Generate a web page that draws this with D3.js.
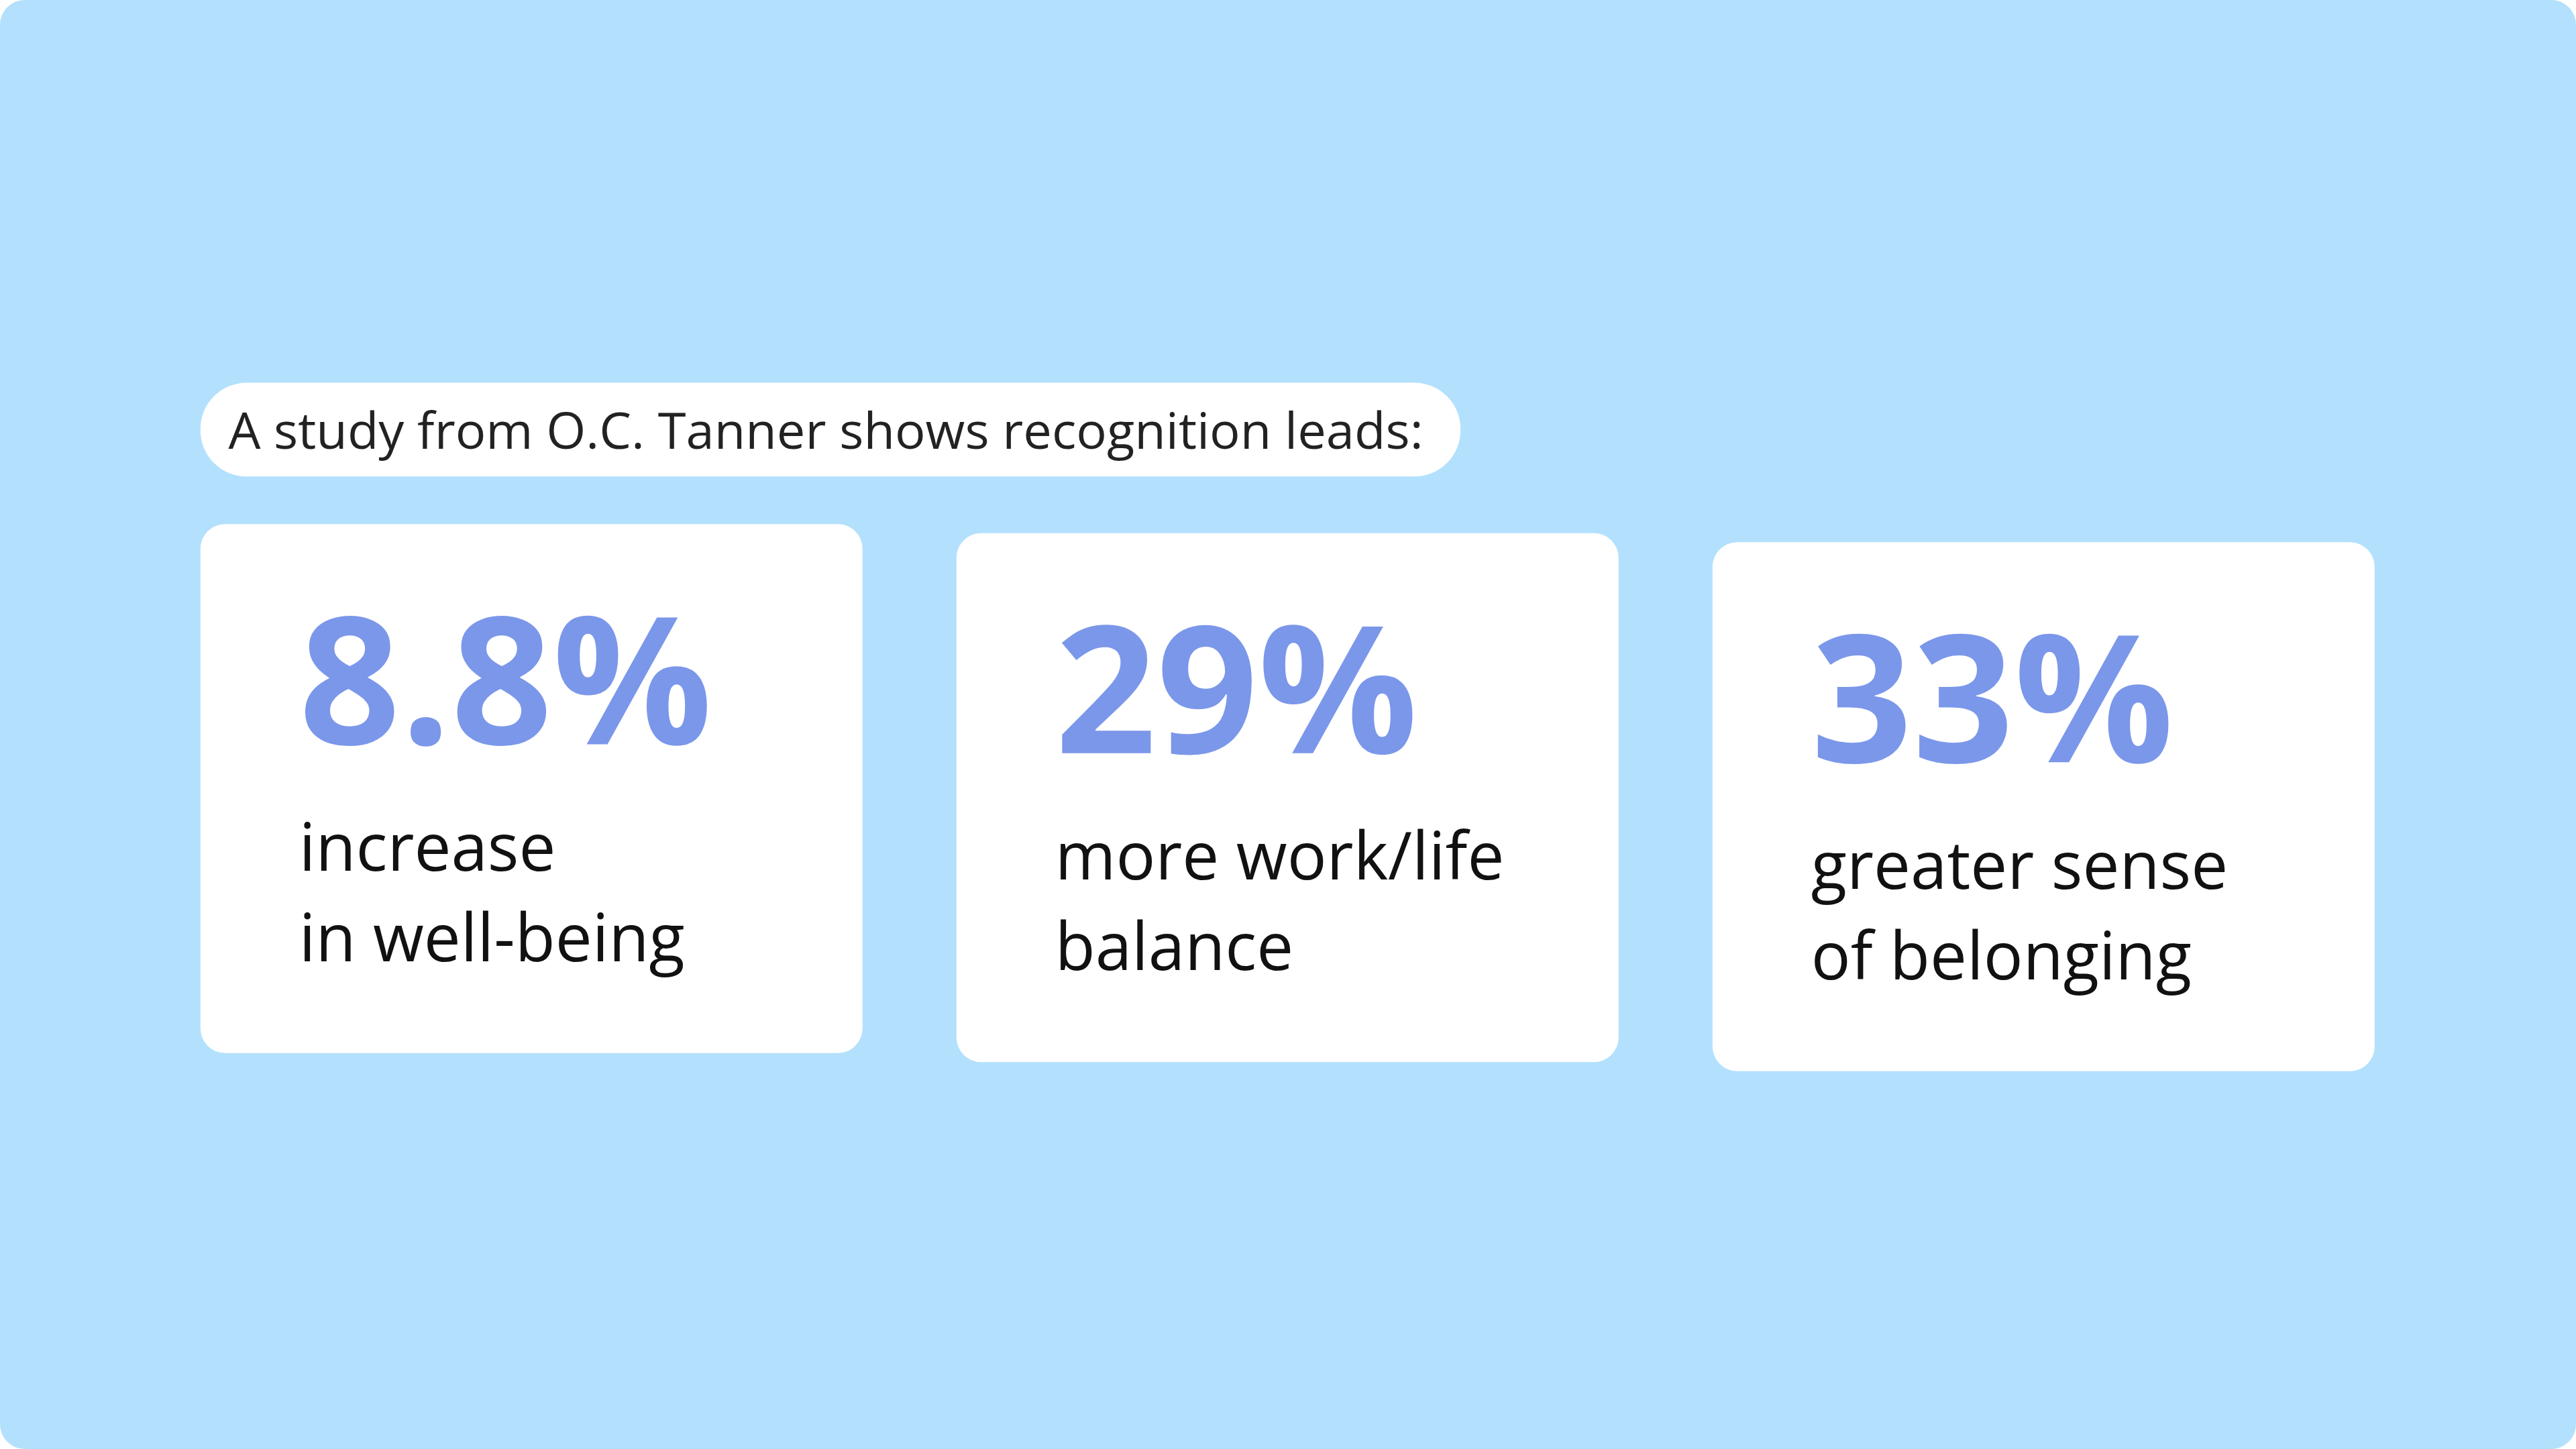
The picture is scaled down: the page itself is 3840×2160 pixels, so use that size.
<!DOCTYPE html>
<html><head><meta charset="utf-8">
<script src="https://cdn.jsdelivr.net/npm/d3@7"></script>
<style>html,body{margin:0;padding:0;background:#fff}svg{display:block}</style>
</head><body>
<script>
const title = "A study from O.C. Tanner shows recognition leads:";
const categories = ["well-being", "work/life balance", "belonging"];
const values = ["8.8%", "29%", "33%"];
const labelLine1 = ["increase", "more work/life", "greater sense"];
const labelLine2 = ["in well-being", "balance", "of belonging"];

const W = 3840, H = 2160, s = W / 1568;
const svg = d3.select("body").append("svg").attr("width", W).attr("height", H);
svg.append("rect").attr("width", W).attr("height", H).attr("rx", 15*s).attr("fill", "#b3e1fd");

// title pill
svg.append("rect").attr("x", 122*s).attr("y", 233*s).attr("width", 767*s).attr("height", 57*s)
  .attr("rx", 28*s).attr("fill", "#fff");
svg.append("text").attr("x", 139*s).attr("y", 273*s).attr("font-family", "Open Sans")
  .attr("font-size", 31*s).attr("fill", "#222").text(title);

const x = d3.scaleBand().domain(categories).range([122*s, 1446*s]).paddingInner(57/403*0.87);
const yOff = d3.scaleLinear().domain([0, 2]).range([319*s, 330*s]);
const cardW = 403*s, cardH = 322*s;

const g = svg.selectAll("g.card").data(categories).join("g")
  .attr("transform", (d,i) => `translate(${x(d)},${yOff(i)})`);
g.append("rect").attr("width", cardW).attr("height", cardH).attr("rx", 15*s).attr("fill", "#fff");
g.append("text").attr("x", 60*s).attr("y", 134*s).attr("font-family", "Open Sans").attr("font-weight", 700)
  .attr("font-size", 108*s).attr("fill", "#7b97ea").text((d,i) => values[i]);
g.append("text").attr("x", 60*s).attr("y", 211*s).attr("font-family", "Open Sans")
  .attr("font-size", 40*s).attr("fill", "#111").text((d,i) => labelLine1[i]);
g.append("text").attr("x", 60*s).attr("y", 266*s).attr("font-family", "Open Sans")
  .attr("font-size", 40*s).attr("fill", "#111").text((d,i) => labelLine2[i]);
</script>
</body></html>
